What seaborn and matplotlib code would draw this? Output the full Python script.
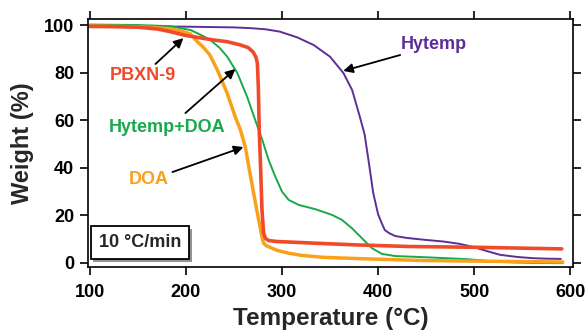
import matplotlib
import matplotlib.patheffects as pe
import seaborn as sns

matplotlib.use("Agg")
import matplotlib.pyplot as plt

# TGA curves (temperature in degC, weight in %)
hytemp_t = [100, 150, 200, 250, 267, 283, 298, 316, 333, 350, 364, 373, 381, 386, 390, 395, 400, 404,
            407, 412, 418, 430, 449, 468, 485, 499, 513, 527, 545, 561, 575, 590]
hytemp_w = [99.7, 99.5, 99.3, 99.0, 98.7, 98.2, 97.2, 94.8, 91.6, 86.7, 79.8, 72.7, 61.5, 54.0, 43.3, 29.3, 20.5, 16.5,
            13.8, 12.4, 11.3, 10.5, 9.7, 9.0, 8.0, 6.7, 5.0, 3.4, 2.5, 2.0, 1.8, 1.7]

pbxn_t = [100, 125, 150, 171, 184, 200, 229, 243, 257, 265, 270, 273, 274.5, 275.5, 276.5, 277.6, 279.3, 281,
          283, 286.2, 295, 307, 340, 376, 433, 499, 591]
pbxn_w = [99.4, 99.3, 99.1, 98.3, 97.2, 95.6, 93.7, 93.0, 91.6, 90.5, 88.7, 86.5, 84.0, 74.0, 55.0, 43.3, 22.3, 12.5,
          10.3, 9.4, 9.0, 8.8, 8.2, 7.6, 6.9, 6.6, 5.9]

doa_t = [100, 150, 171, 184, 198, 205, 212, 218, 225, 233, 243, 251.6, 256.8, 262, 266, 270.3, 274, 277.6, 279.5,
         281, 284, 289.7, 295, 307, 320, 341.6, 360, 389, 449, 492, 592]
doa_w = [99.6, 99.3, 98.8, 98.4, 97.2, 96.2, 93.0, 90.8, 87.5, 81.0, 71.4, 61.3, 56.0, 48.7, 39.5, 30.0, 22.0, 14.5, 10.5,
         8.3, 7.2, 6.2, 5.3, 4.1, 3.2, 2.4, 2.1, 1.7, 1.0, 0.8, 0.4]

hd_t = [100, 150, 184, 190, 205, 215, 225.6, 235, 243.3, 253.7, 264, 272.3, 279.6, 286.2, 293.1, 300.1, 307,
        317.4, 334.7, 352, 362.4, 372.8, 383.2, 393.6, 404, 417.8, 449, 492, 527, 560, 592]
hd_w = [100.2, 100.0, 99.5, 99.0, 97.9, 96.0, 93.7, 90.5, 86.6, 79.8, 69.7, 60.0, 51.7, 43.3, 36.3, 30.0, 26.5,
        24.4, 22.6, 20.2, 18.1, 14.6, 10.4, 6.2, 3.8, 2.9, 2.4, 1.6, 0.4, 0.0, -0.1]

x_ticks = [100, 200, 300, 400, 500, 600]
y_ticks = [0, 20, 40, 60, 80, 100]

sns.set_theme(style="ticks")
plt.rcParams["font.family"] = ["Liberation Sans", "DejaVu Sans"]
plt.rcParams["font.weight"] = "bold"

fig = plt.figure(figsize=(5.85, 3.31), dpi=100)
ax = fig.add_axes([0.1504, 0.1934, 0.829, 0.749])

purple = "#5E2E96"
red = "#EF4A2A"
orange = "#F8A11B"
green = "#17A94C"

sns.lineplot(x=hytemp_t, y=hytemp_w, color=purple, lw=1.4, sort=False, ax=ax)
sns.lineplot(x=hd_t, y=hd_w, color=green, lw=1.4, sort=False, ax=ax)
sns.lineplot(x=doa_t, y=doa_w, color=orange, lw=2.5, sort=False, ax=ax)
sns.lineplot(x=pbxn_t, y=pbxn_w, color=red, lw=2.6, sort=False, ax=ax)

ax.set_xlim(98.4, 602.6)
ax.set_ylim(-1.7, 102.5)
ax.set_xticks(x_ticks)
ax.set_yticks(y_ticks)
ax.tick_params(direction="out", top=True, right=True, length=6, width=1.2,
               labelsize=13, colors="black")
ax.tick_params(axis="x", pad=6.5)
ax.tick_params(axis="y", pad=4)
for lab in ax.get_xticklabels() + ax.get_yticklabels():
    lab.set_fontweight("bold")
for sp in ax.spines.values():
    sp.set_linewidth(1.2)
    sp.set_color("black")

ax.set_xlabel("Temperature (°C)", fontsize=17.5, fontweight="bold", labelpad=4)
ax.set_ylabel("Weight (%)", fontsize=17, fontweight="bold", labelpad=7)

# labels with arrows
arrow = dict(arrowstyle="-|>", color="black", lw=1.3, mutation_scale=14, shrinkA=0, shrinkB=0)
labels = [
    ("Hytemp", purple, (458.3, 91.6), (423, 87.4), (363.8, 80.7)),
    ("PBXN-9", red, (155, 78.6), (168.5, 83.6), (197.6, 94.5)),
    ("Hytemp+DOA", green, (181, 57.1), (199.7, 63.0), (251.6, 81.5)),
    ("DOA", orange, (161.3, 34.9), (186.2, 38.2), (260, 48.7)),
]
for text, col, pos, tail, head in labels:
    ax.text(pos[0], pos[1], text, color=col, fontsize=13, fontweight="bold",
            ha="center", va="center")
    ax.annotate("", xy=head, xytext=tail, arrowprops=arrow)

t = ax.text(152.4, 8.6, "10 °C/min", fontsize=13, fontweight="bold", ha="center", va="center",
            bbox=dict(boxstyle="square,pad=0.45", fc="white", ec="black", lw=1.3))
t.get_bbox_patch().set_path_effects([
    pe.SimplePatchShadow(offset=(2, -2), shadow_rgbFace="#888888", alpha=0.9),
    pe.Normal(),
])

plt.savefig("out.png", dpi=100)
plt.close(fig)
